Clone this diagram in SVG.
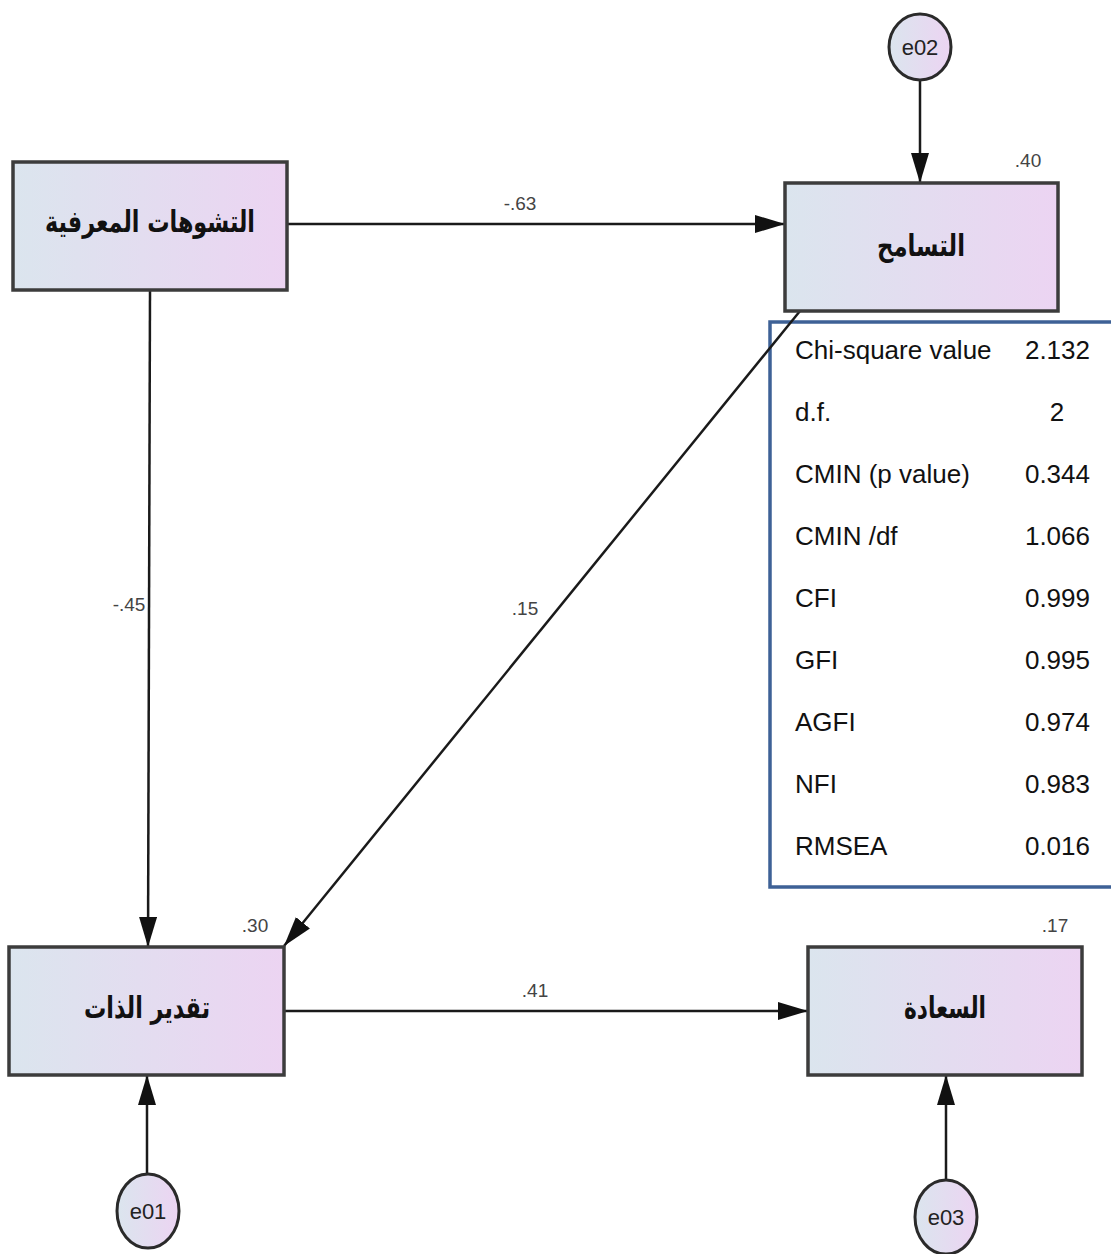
<svg xmlns="http://www.w3.org/2000/svg" width="1111" height="1254" viewBox="0 0 1111 1254">
<defs>
<linearGradient id="g" x1="0" y1="0" x2="1" y2="0">
<stop offset="0" stop-color="#dbe5ee"/>
<stop offset="1" stop-color="#ecd4f2"/>
</linearGradient>
<marker id="ah" markerUnits="userSpaceOnUse" markerWidth="32" markerHeight="20" refX="30" refY="9" orient="auto">
<path d="M0,0 L30,9 L0,18 Z" fill="#111"/>
</marker>
<style>
.box{fill:url(#g);stroke:#3c3c3c;stroke-width:3.5}
.err{fill:url(#g);stroke:#2a2a2a;stroke-width:3}
.ar{font-family:"DejaVu Sans",sans-serif;font-weight:bold;font-size:30px;fill:#111;text-anchor:middle}
.el{font-family:"Liberation Sans Narrow","Liberation Sans",sans-serif;font-size:22px;fill:#222;text-anchor:middle}
.lbl{font-family:"Liberation Sans Narrow","Liberation Sans",sans-serif;font-size:19px;fill:#444;text-anchor:middle}
.ln{stroke:#1a1a1a;stroke-width:2.5;fill:none;marker-end:url(#ah)}
.tb{font-family:"Liberation Sans",Arial,sans-serif;font-size:26px;fill:#111}
.tv{font-family:"Liberation Sans",Arial,sans-serif;font-size:26px;fill:#111;text-anchor:end}
</style>
</defs>
<rect width="1111" height="1254" fill="#fff"/>
<g id="fit_table">
<rect x="770" y="322" width="350" height="565" fill="none" stroke="#3e6196" stroke-width="3.5"/>
<text class="tb" x="795" y="359">Chi-square value</text><text class="tv" x="1090" y="359">2.132</text>
<text class="tb" x="795" y="421">d.f.</text><text class="tb" x="1057" y="421" text-anchor="middle">2</text>
<text class="tb" x="795" y="483">CMIN (p value)</text><text class="tv" x="1090" y="483">0.344</text>
<text class="tb" x="795" y="545">CMIN /df</text><text class="tv" x="1090" y="545">1.066</text>
<text class="tb" x="795" y="607">CFI</text><text class="tv" x="1090" y="607">0.999</text>
<text class="tb" x="795" y="669">GFI</text><text class="tv" x="1090" y="669">0.995</text>
<text class="tb" x="795" y="731">AGFI</text><text class="tv" x="1090" y="731">0.974</text>
<text class="tb" x="795" y="793">NFI</text><text class="tv" x="1090" y="793">0.983</text>
<text class="tb" x="795" y="855">RMSEA</text><text class="tv" x="1090" y="855">0.016</text>
</g>
<g id="connectors">
<line class="ln" x1="287" y1="224" x2="785" y2="224"/>
<line class="ln" x1="150" y1="290" x2="148" y2="947"/>
<line class="ln" x1="920" y1="80" x2="920" y2="183"/>
<line class="ln" x1="800" y1="311" x2="284" y2="946"/>
<line class="ln" x1="284" y1="1011" x2="808" y2="1011"/>
<line class="ln" x1="147" y1="1174" x2="147" y2="1075"/>
<line class="ln" x1="946" y1="1180" x2="946" y2="1075"/>
<text class="lbl" x="520" y="210">-.63</text>
<text class="lbl" x="129" y="611">-.45</text>
<text class="lbl" x="525" y="615">.15</text>
<text class="lbl" x="535" y="997">.41</text>
</g>
<g id="n_distortions">
<rect class="box" x="13" y="162" width="274" height="128"/>
<text class="ar" x="150" y="232" textLength="210" lengthAdjust="spacingAndGlyphs">التشوهات المعرفية</text>
</g>
<g id="n_tolerance">
<rect class="box" x="785" y="183" width="273" height="128"/>
<text class="ar" x="921" y="256" textLength="88" lengthAdjust="spacingAndGlyphs">التسامح</text>
<text class="lbl" x="1028" y="167">.40</text>
</g>
<g id="n_selfesteem">
<rect class="box" x="9" y="947" width="275" height="128"/>
<text class="ar" x="147" y="1018" textLength="126" lengthAdjust="spacingAndGlyphs">تقدير الذات</text>
<text class="lbl" x="255" y="932">.30</text>
</g>
<g id="n_happiness">
<rect class="box" x="808" y="947" width="274" height="128"/>
<text class="ar" x="945" y="1018" textLength="82" lengthAdjust="spacingAndGlyphs">السعادة</text>
<text class="lbl" x="1055" y="932">.17</text>
</g>
<g id="e02">
<ellipse class="err" cx="920" cy="47" rx="31" ry="33"/>
<text class="el" x="920" y="55">e02</text>
</g>
<g id="e01">
<ellipse class="err" cx="148" cy="1211" rx="31" ry="37"/>
<text class="el" x="148" y="1219">e01</text>
</g>
<g id="e03">
<ellipse class="err" cx="946" cy="1217" rx="31" ry="37"/>
<text class="el" x="946" y="1225">e03</text>
</g>
</svg>
